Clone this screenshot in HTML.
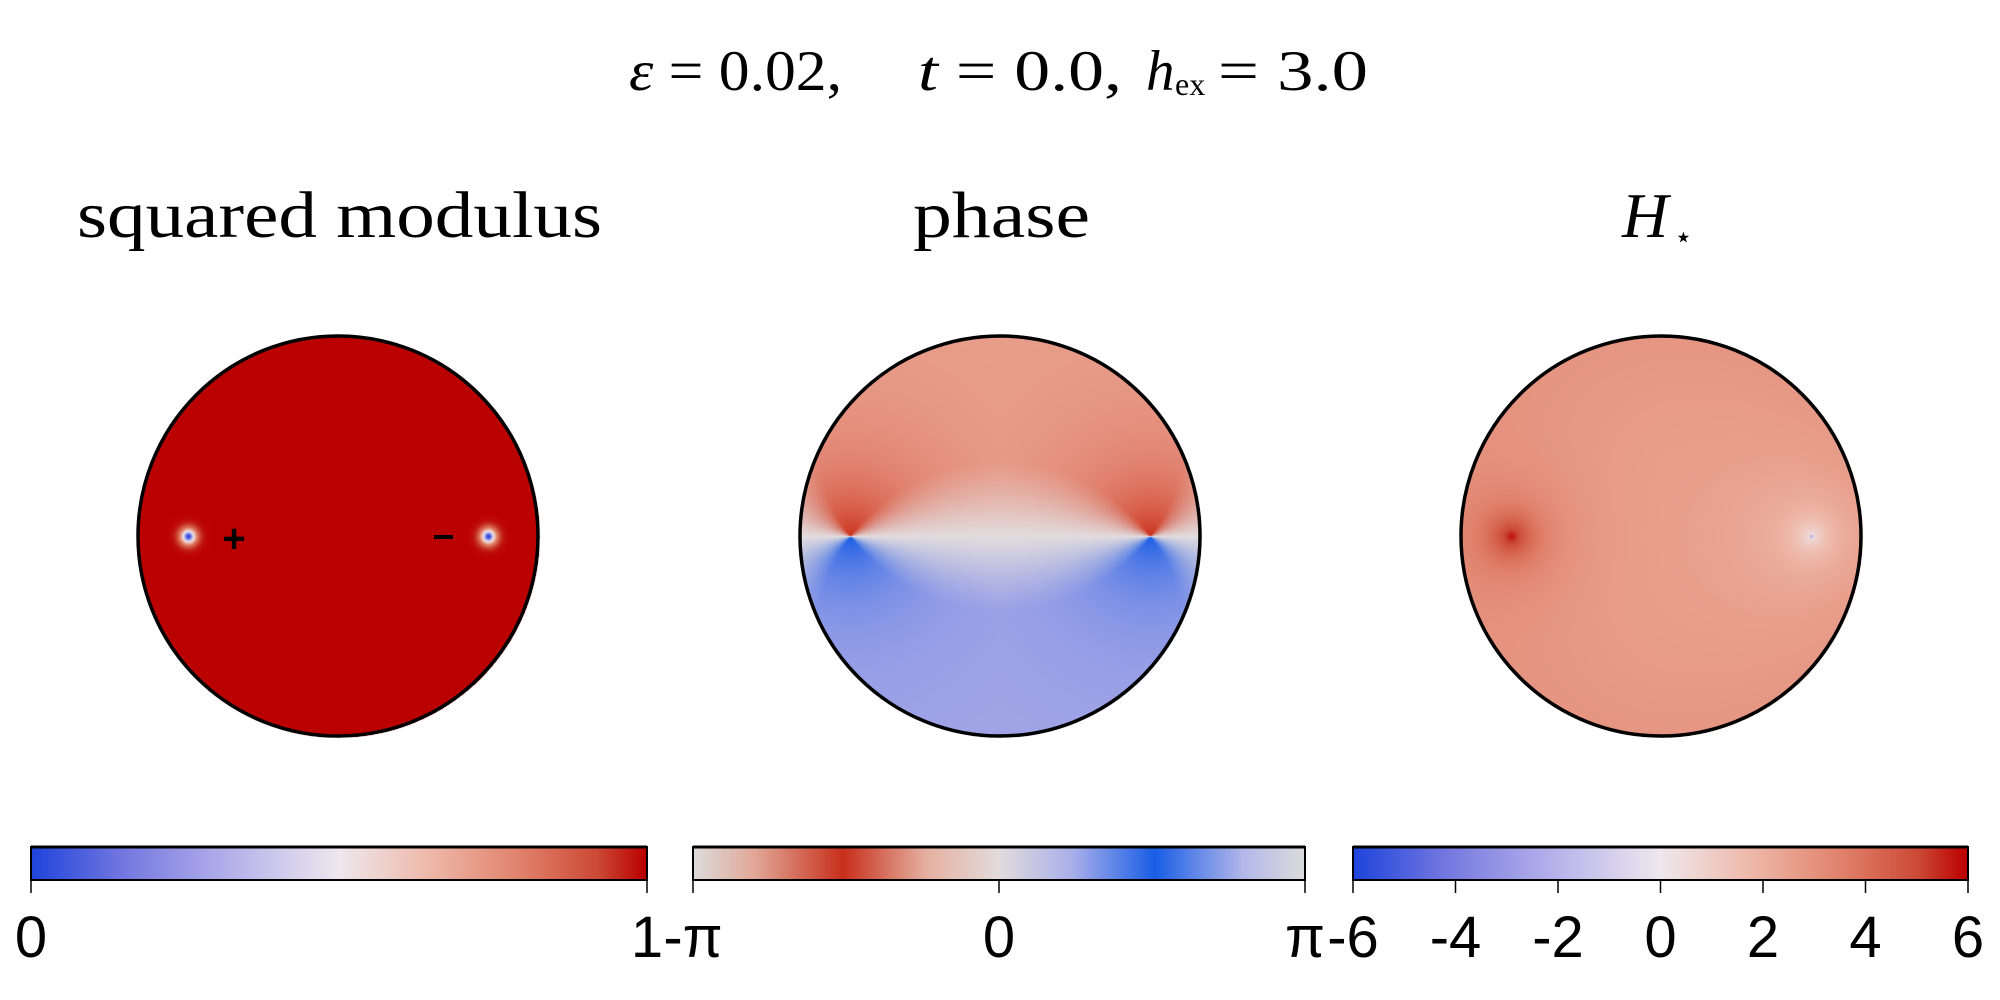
<!DOCTYPE html>
<html><head><meta charset="utf-8"><style>
html,body{margin:0;padding:0;background:#fff;}
#root{position:relative;width:2000px;height:1000px;overflow:hidden;}
canvas{position:absolute;}
svg{position:absolute;left:0;top:0;}
</style></head><body>
<div id="root">
<canvas id="c1" width="404" height="404" style="left:136px;top:334px"></canvas>
<canvas id="c2" width="404" height="404" style="left:798px;top:334px"></canvas>
<canvas id="c3" width="404" height="404" style="left:1459px;top:334px"></canvas>
<canvas id="b1" width="616" height="33" style="left:31px;top:847px"></canvas>
<canvas id="b2" width="612" height="33" style="left:693px;top:847px"></canvas>
<canvas id="b3" width="615" height="33" style="left:1353px;top:847px"></canvas>
<svg id="ov" width="2000" height="1000" xmlns="http://www.w3.org/2000/svg">
 <g font-family="Liberation Serif, serif" font-size="57">
  <text x="629" y="90" textLength="213" lengthAdjust="spacingAndGlyphs"><tspan font-style="italic">ε</tspan> = 0.02,</text>
  <text x="918" y="90" textLength="204" lengthAdjust="spacingAndGlyphs"><tspan font-style="italic">t</tspan> = 0.0,</text>
  <text x="1146" y="90" font-style="italic">h</text>
  <text x="1175" y="95" font-size="32">ex</text>
  <text x="1218" y="90" textLength="150" lengthAdjust="spacingAndGlyphs">= 3.0</text>
 </g>
 <text x="77" y="237" font-family="Liberation Serif, serif" font-size="66" textLength="525" lengthAdjust="spacingAndGlyphs">squared modulus</text>
 <text x="913" y="237" font-family="Liberation Serif, serif" font-size="66" textLength="177" lengthAdjust="spacingAndGlyphs">phase</text>
 <g font-family="Liberation Serif, serif">
  <text x="1622" y="237" font-size="64" font-style="italic">H</text>
  <text x="1674" y="247" font-size="30">⋆</text>
 </g>
 <g id="outlines"></g>
 <g id="cbaxes" font-family="Liberation Sans, sans-serif" font-size="58"></g>
</svg>
</div>
<script>
// ---- data ----
const vortexX = [-0.75, 0.75];       // vortex positions (fraction of radius)
const vortexSign = [1, -1];
const hPeakLeft = 6.0;               // H* value at left vortex
const hBase = 2.6;                   // background H*
const hMinRight = 0.0;               // H* at right vortex
const cwStops = [[0,'#1f45dc'],[0.15,'#7478e0'],[0.3,'#aeaaea'],[0.5,'#eee8ee'],[0.65,'#eeb8a8'],[0.8,'#e0806a'],[0.92,'#cc4a36'],[1,'#bb0000']];
const phStops = [[0,'#dcdcdc'],[0.1,'#e2a898'],[0.245,'#c8301c'],[0.38,'#e6b0a0'],[0.5,'#e2dcdc'],[0.62,'#aab0ea'],[0.755,'#1a5ee6'],[0.9,'#b4b8ea'],[1,'#dcdcdc']];
const bar1Ticks = ['0','1'];
const bar2Ticks = ['-π','0','π'];
const bar3Ticks = ['-6','-4','-2','0','2','4','6'];

function hex(h){return [parseInt(h.substr(1,2),16),parseInt(h.substr(3,2),16),parseInt(h.substr(5,2),16)];}
function cmap(stops,t){
  t=Math.max(0,Math.min(1,t));
  for(let i=1;i<stops.length;i++){
    if(t<=stops[i][0]){const a=stops[i-1],b=stops[i];const f=(t-a[0])/(b[0]-a[0]);const ca=hex(a[1]),cb=hex(b[1]);
      return [ca[0]+(cb[0]-ca[0])*f,ca[1]+(cb[1]-ca[1])*f,ca[2]+(cb[2]-ca[2])*f];}
  }
  return hex(stops[stops.length-1][1]);
}
function lerp(a,b,f){return [a[0]+(b[0]-a[0])*f,a[1]+(b[1]-a[1])*f,a[2]+(b[2]-a[2])*f];}
const R=200;
function field(id,fn){
  const c=document.getElementById(id),ctx=c.getContext('2d');
  const img=ctx.createImageData(404,404);
  for(let j=0;j<404;j++)for(let i=0;i<404;i++){
    const x=i-202,y=202-j; if(x*x+y*y>(R+1)*(R+1))continue;
    const col=fn(x,y); const k=(j*404+i)*4;
    img.data[k]=col[0];img.data[k+1]=col[1];img.data[k+2]=col[2];img.data[k+3]=255;
  }
  ctx.putImageData(img,0,0);
}
const vx = vortexX.map(v=>v*R);
// squared modulus
field('c1',(x,y)=>{
  let rho=1;
  for(const a of vx){const d=Math.hypot(x-a,y);const t=Math.tanh(d/6);rho*=t*t;}
  return cmap(cwStops,rho);
});
// phase
const gray=[226,220,222], strongR=[204,50,28], strongB=[26,94,230], farR=[232,158,140], farB=[162,164,230];
field('c2',(x,y)=>{
  let th=0;
  vx.forEach((a,i)=>{th+=vortexSign[i]*Math.atan2(y,x-a);});
  while(th>Math.PI)th-=2*Math.PI;while(th<-Math.PI)th+=2*Math.PI;
  const dmin=Math.min(...vx.map(a=>Math.hypot(x-a,y)));
  const e=Math.exp(-dmin/55);
  const s=Math.abs(Math.sin(th));
  const inten=Math.min(1,s*(1+0.3*s));
  const target = th<0 ? lerp(farR,strongR,e) : lerp(farB,strongB,e);
  return lerp(gray,target,inten);
});
// H*
field('c3',(x,y)=>{
  const d1=Math.hypot(x-vx[0],y),d2=Math.hypot(x-vx[1],y);
  const r2=(x*x+y*y)/(R*R);
  let h=hBase+0.3*r2 + (hPeakLeft-hBase)*Math.exp(-d1/22)*0.75 + 0.5*Math.exp(-d1/70)
        - 1.1*Math.exp(-d2/50) - (hBase-1.2-hMinRight)*Math.exp(-d2/14);
  if(d2<2)h=-2;
  return cmap(cwStops,(h+6)/12);
});
// colorbars
function bar(id,stops){
  const c=document.getElementById(id),ctx=c.getContext('2d');
  for(let i=0;i<c.width;i++){const col=cmap(stops,i/(c.width-1));ctx.fillStyle=`rgb(${col[0]|0},${col[1]|0},${col[2]|0})`;ctx.fillRect(i,0,1,c.height);}
}
bar('b1',cwStops);bar('b2',phStops);bar('b3',cwStops);
const NS='http://www.w3.org/2000/svg';
function el(tag,attrs,parent){const e=document.createElementNS(NS,tag);for(const k in attrs)e.setAttribute(k,attrs[k]);parent.appendChild(e);return e;}
const og=document.getElementById('outlines');
[[338,'modulus-boundary'],[1000,'phase-boundary'],[1661,'h-star-boundary']].forEach(([cx,nm])=>{
  const c=el('circle',{cx:cx,cy:536,r:R,fill:'none',stroke:'#000','stroke-width':3.5},og);
  
  
});
const plus=el('text',{x:234,y:552,'text-anchor':'middle','font-family':'Liberation Sans, sans-serif','font-size':40,'font-weight':'bold'},og);
plus.textContent='+';


const minus=el('rect',{x:434,y:535,width:19,height:4,fill:'#000'},og);


const cb=document.getElementById('cbaxes');
function axis(x0,x1,labels,nm){
  const fr=el('rect',{x:x0,y:847,width:x1-x0,height:33,fill:'none',stroke:'#000','stroke-width':2},cb);
  
  
  el('line',{x1:x0,y1:847,x2:x1,y2:847,stroke:'#000','stroke-width':3},cb);
  labels.forEach((l,i)=>{
    const x=x0+(x1-x0)*i/(labels.length-1);
    el('line',{x1:x,y1:880,x2:x,y2:893,stroke:'#000','stroke-width':1.5},cb);
    const t=el('text',{x:x,y:957,'text-anchor':'middle'},cb);
    t.textContent=l;
    
    
  });
}
axis(31,647,bar1Ticks,'modulus-colorbar');
axis(693,1305,bar2Ticks,'phase-colorbar');
axis(1353,1968,bar3Ticks,'h-star-colorbar');
</script>
</body></html>
